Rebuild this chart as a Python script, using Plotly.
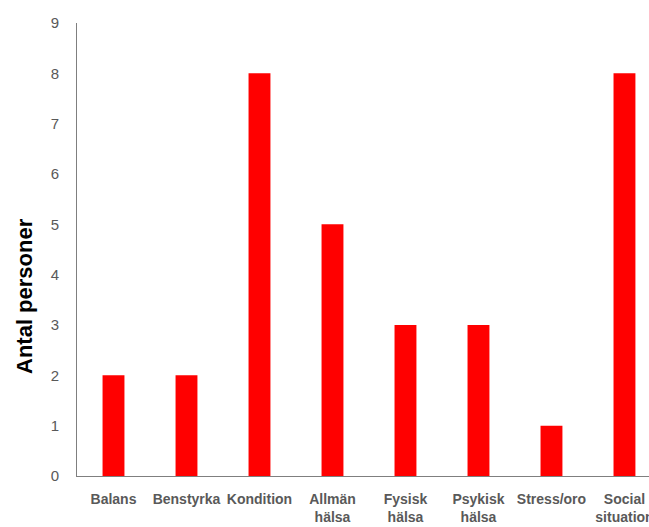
import plotly.graph_objects as go

categories = ["<b>Balans</b>", "<b>Benstyrka</b>", "<b>Kondition</b>", "<b>Allmän<br>hälsa</b>",
              "<b>Fysisk<br>hälsa</b>", "<b>Psykisk<br>hälsa</b>", "<b>Stress/oro</b>",
              "<b>Social<br>situation</b>"]
values = [2, 2, 8, 5, 3, 3, 1, 8]
y_ticks = list(range(0, 10))

fig = go.Figure(go.Bar(x=categories, y=values, marker=dict(color="#FF0000", line=dict(width=0))))

fig.update_layout(
    width=649, height=527,
    margin=dict(l=77, r=0, t=23, b=51),
    paper_bgcolor="white", plot_bgcolor="white",
    bargap=0.7,
    showlegend=False,
    font=dict(family="Liberation Sans, Arial", color="#595959"),
)
fig.update_xaxes(
    range=[-0.5, 7.336],
    automargin=False,
    showline=True, linecolor="#7f7f7f", linewidth=1,
    showgrid=False, ticks="",
    tickfont=dict(size=14, color="#595959", family="Liberation Sans Narrow, Liberation Sans, Arial"),
    tickangle=0,
    ticklabelstandoff=10,
)
fig.update_yaxes(
    range=[0, 9], tickvals=y_ticks,
    automargin=False,
    showline=True, linecolor="#7f7f7f", linewidth=1,
    showgrid=False, ticks="", zeroline=False,
    tickfont=dict(size=15, color="#595959", family="Liberation Sans Narrow, Liberation Sans, Arial"),
    ticklabelstandoff=14,
)
fig.add_annotation(
    text="<b>Antal personer</b>", textangle=-90, showarrow=False,
    xref="paper", yref="paper", x=(24 - 77) / 572, y=(476 - 296) / 453,
    xanchor="center", yanchor="middle",
    font=dict(size=22, color="black", family="Liberation Sans, Arial"),
)
fig.write_html("out.html")
